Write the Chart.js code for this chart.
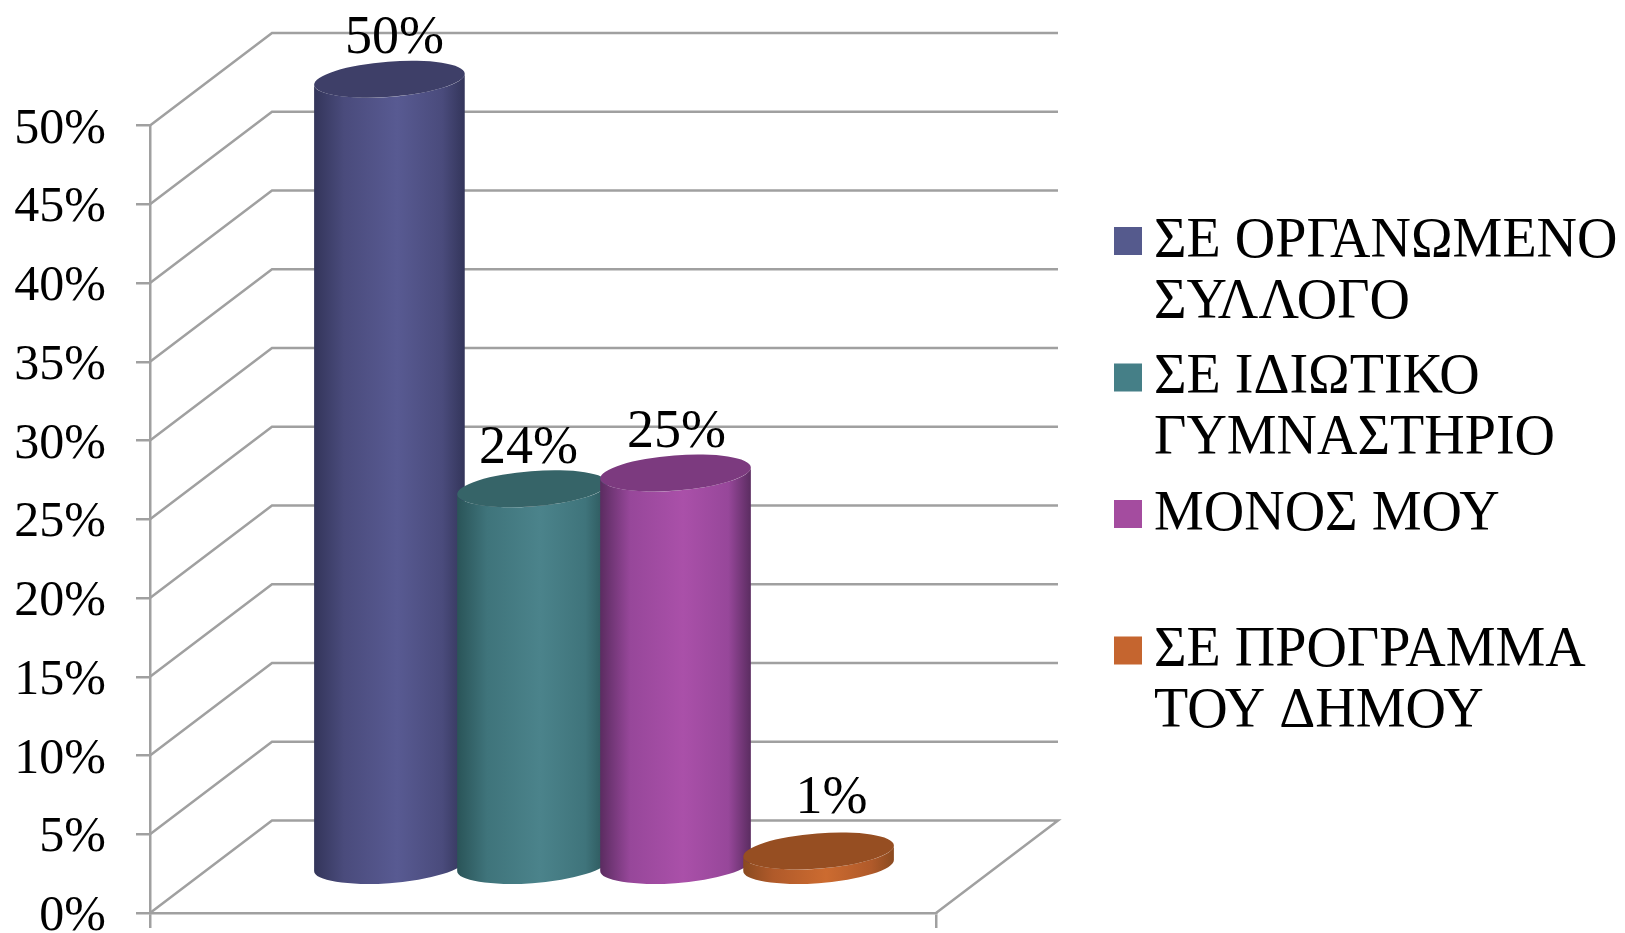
<!DOCTYPE html>
<html>
<head>
<meta charset="utf-8">
<title>Chart</title>
<script src="https://cdn.jsdelivr.net/npm/chart.js@4"></script>
<style>
    html, body { margin: 0; padding: 0; background: #fff; }
    canvas { display: block; }
</style>
</head>
<body>
<canvas id="sportChart" width="1625" height="933"></canvas>
<script>
const categories = [""];
const seriesNames = ["ΣΕ ΟΡΓΑΝΩΜΕΝΟ ΣΥΛΛΟΓΟ", "ΣΕ ΙΔΙΩΤΙΚΟ ΓΥΜΝΑΣΤΗΡΙΟ", "ΜΟΝΟΣ ΜΟΥ", "ΣΕ ΠΡΟΓΡΑΜΜΑ ΤΟΥ ΔΗΜΟΥ"];
const seriesValues = [50, 24, 25, 1];
const legendLines = [["ΣΕ ΟΡΓΑΝΩΜΕΝΟ", "ΣΥΛΛΟΓΟ"], ["ΣΕ ΙΔΙΩΤΙΚΟ", "ΓΥΜΝΑΣΤΗΡΙΟ"], ["ΜΟΝΟΣ ΜΟΥ"], ["ΣΕ ΠΡΟΓΡΑΜΜΑ", "ΤΟΥ ΔΗΜΟΥ"]];

const legendColors = ["#555a8d", "#457f87", "#a44c9f", "#c5652f"];
const topColors = ["#3e3f68", "#366468", "#7c3a7f", "#964e22"];
const edgeColors = ["#33355a", "#2a5458", "#5a2c60", "#8a4a20"];
const midColors = ["#4a4b7c", "#3f747b", "#97479a", "#b05a2a"];
const lightColors = ["#585a92", "#4b838b", "#aa50a9", "#cc6b30"];

// data labels are not centred on their bars in the original
const labelNudgeX = [5, -4, 1, 13];
const labelNudgeY = [26, 26, 26, 38];

const serif = "'Liberation Serif', serif";
const gridColor = "#a0a0a0";

// how far the back wall sits behind the front plane
const depthX = 122;
const depthY = 92.5;

const wallPlugin = {
    id: "wall",
    beforeDatasetsDraw(chart) {
        const ctx = chart.ctx;
        const area = chart.chartArea;
        const yScale = chart.scales.y;

        ctx.save();
        ctx.strokeStyle = gridColor;
        ctx.lineWidth = 2.5;
        yScale.ticks.forEach(tick => {
            const y = yScale.getPixelForValue(tick.value);
            ctx.beginPath();
            ctx.moveTo(area.left, y);
            ctx.lineTo(area.left + depthX, y - depthY);
            ctx.lineTo(area.right + depthX, y - depthY);
            if (tick.value === 0) {
                ctx.lineTo(area.right, y);
            }
            ctx.stroke();
        });
        ctx.restore();
    }
};

function drawCylinder(ctx, bar, index) {
    // bars stand half way into the depth of the floor
    const cx = bar.x + depthX / 2;
    const topY = bar.y - depthY / 2;
    const baseY = bar.base - depthY / 2;
    const a = bar.width / 2;
    const b = a * 0.233;
    const tilt = -0.077;
    const t0 = Math.atan(-(b / a) * Math.tan(tilt));

    const gradient = ctx.createLinearGradient(cx - a, 0, cx + a, 0);
    gradient.addColorStop(0, edgeColors[index]);
    gradient.addColorStop(0.2, midColors[index]);
    gradient.addColorStop(0.55, lightColors[index]);
    gradient.addColorStop(0.85, midColors[index]);
    gradient.addColorStop(1, edgeColors[index]);

    ctx.beginPath();
    ctx.ellipse(cx, baseY, a, b, tilt, t0, Math.PI + t0, false);
    ctx.ellipse(cx, topY, a, b, tilt, Math.PI + t0, t0, true);
    ctx.closePath();
    ctx.fillStyle = gradient;
    ctx.fill();

    ctx.beginPath();
    ctx.ellipse(cx, topY, a, b, tilt, 0, Math.PI * 2);
    ctx.fillStyle = topColors[index];
    ctx.fill();
}

const cylinderPlugin = {
    id: "cylinders",
    afterDatasetsDraw(chart) {
        const ctx = chart.ctx;
        ctx.save();

        seriesValues.forEach((value, i) => {
            drawCylinder(ctx, chart.getDatasetMeta(i).data[0], i);
        });

        ctx.fillStyle = "#000";
        ctx.font = "54px " + serif;
        ctx.textAlign = "center";
        ctx.textBaseline = "alphabetic";
        seriesValues.forEach((value, i) => {
            const bar = chart.getDatasetMeta(i).data[0];
            const x = bar.x + depthX / 2 + labelNudgeX[i];
            const y = bar.y - depthY / 2 - labelNudgeY[i];
            ctx.fillText(value + "%", x, y);
        });

        ctx.restore();
    }
};

const legendPlugin = {
    id: "sideLegend",
    afterDraw(chart) {
        const ctx = chart.ctx;
        const rowStep = 136.5;
        const lineStep = 61;
        ctx.save();
        ctx.font = "56px " + serif;
        ctx.textAlign = "left";
        ctx.textBaseline = "middle";
        legendLines.forEach((lines, i) => {
            const y = 239 + i * rowStep;
            ctx.fillStyle = legendColors[i];
            ctx.fillRect(1114, y - 12, 28, 28);
            ctx.fillStyle = "#000";
            lines.forEach((line, n) => {
                ctx.fillText(line, 1154, y + n * lineStep + 3);
            });
        });
        ctx.restore();
    }
};

new Chart(document.getElementById("sportChart"), {
    type: "bar",
    data: {
        labels: categories,
        datasets: seriesNames.map((name, i) => ({
            label: name,
            data: [seriesValues[i]],
            backgroundColor: "rgba(0,0,0,0)",
            categoryPercentage: 0.728,
            barPercentage: 1.056
        }))
    },
    plugins: [wallPlugin, cylinderPlugin, legendPlugin],
    options: {
        responsive: false,
        animation: false,
        layout: {
            autoPadding: false,
            padding: { left: 0, top: 125.5, right: 689, bottom: 0 }
        },
        plugins: {
            legend: { display: false },
            tooltip: { enabled: false }
        },
        scales: {
            x: {
                afterFit(scale) { scale.height = 20; },
                ticks: { display: false },
                grid: { drawOnChartArea: false, drawTicks: true, tickLength: 15, color: gridColor, lineWidth: 2.5 },
                border: { color: gridColor, width: 2.5 }
            },
            y: {
                min: 0,
                max: 50,
                afterFit(scale) {
                    scale.width = 150;
                    scale.paddingTop = 0;
                    scale.paddingBottom = 0;
                },
                ticks: {
                    stepSize: 5,
                    padding: 30,
                    labelOffset: 4,
                    color: "#000",
                    font: { family: serif, size: 50, lineHeight: 1 },
                    callback: value => value + "%"
                },
                grid: { drawOnChartArea: false, drawTicks: true, tickLength: 14, color: gridColor, lineWidth: 2.5 },
                border: { color: gridColor, width: 2.5 }
            }
        }
    }
});
</script>
</body>
</html>
